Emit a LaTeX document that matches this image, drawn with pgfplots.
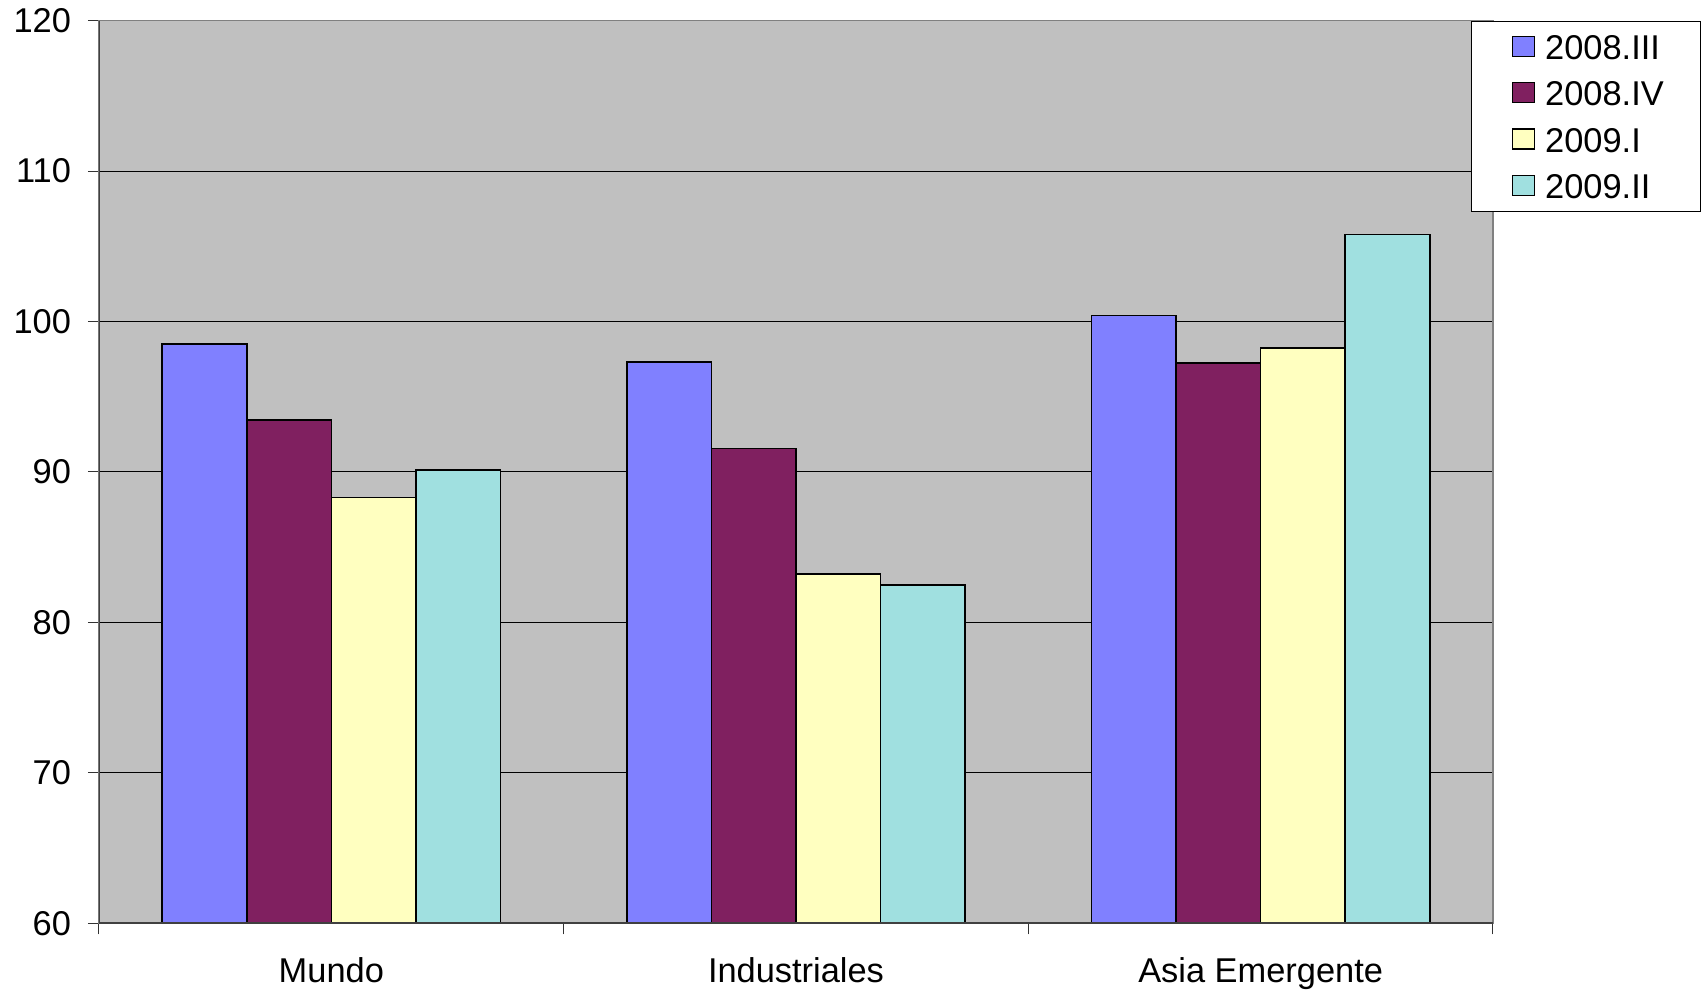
\documentclass[border=0pt]{standalone}
\usepackage{fontspec}
\setmainfont{Liberation Sans}
\usepackage{pgfplots}
\pgfplotsset{compat=1.18}
\definecolor{cA}{HTML}{8080FF}
\definecolor{cB}{HTML}{802060}
\definecolor{cC}{HTML}{FFFFC0}
\definecolor{cD}{HTML}{A0E0E0}
\definecolor{bg}{HTML}{C0C0C0}
\newcommand{\chartfont}{\fontsize{17.2}{20}\selectfont}
\begin{document}
\begin{tikzpicture}
\begin{axis}[
  at={(0,0)}, anchor=south west,
  scale only axis, width=697pt, height=451.3pt,
  xmin=-0.5, xmax=2.5, ymin=60, ymax=120,
  ytick={60,70,80,90,100,110,120},
  xtick={0,1,2}, xticklabels={Mundo,Industriales,Asia Emergente},
  minor xtick={-0.5,0.5,1.5,2.5},
  major x tick style={draw=none},
  tick pos=left,
  tick align=outside, major tick length=5.5pt, minor tick length=5.5pt,
  tick style={black!80, line width=0.5pt},
  ymajorgrids, major grid style={black, line width=0.5pt},
  axis background/.style={fill=bg},
  axis line style={draw=gray, line width=0.8pt},
  /pgf/number format/assume math mode=true,
  ticklabel style={font=\chartfont},
  yticklabel style={xshift=-5pt},
  xticklabel style={yshift=-8pt},
  ybar=0pt, bar width=0.182,
  legend style={at={(0.984,1)}, anchor=north west, draw=black, line width=0.5pt, fill=white,
    font=\chartfont, inner xsep=16.5pt, inner ysep=1.4pt,
    nodes={inner ysep=3.55pt, text height=14.3pt, text depth=1.7pt},
    cells={anchor=west}},
  legend image code/.code={\path[draw=none,fill=none] (-4pt,0) -- (14.5pt,0);\draw[#1,draw=black,line width=0.6pt] (0pt,-4.8pt) rectangle (11pt,5.2pt);},
]
\addplot[fill=cA, draw=black, line width=0.8pt, bar shift=-0.273] coordinates {(0,98.5) (1,97.3) (2,100.4)};
\addplot[fill=cB, draw=black, line width=0.8pt, bar shift=-0.091] coordinates {(0,93.45) (1,91.55) (2,97.25)};
\addplot[fill=cC, draw=black, line width=0.8pt, bar shift=0.091] coordinates {(0,88.3) (1,83.2) (2,98.25)};
\addplot[fill=cD, draw=black, line width=0.8pt, bar shift=0.273] coordinates {(0,90.15) (1,82.5) (2,105.8)};
\legend{2008.III,2008.IV,2009.I,2009.II}
\draw[black!75, line width=1pt] (rel axis cs:0,1) -- (rel axis cs:0,0) -- (rel axis cs:1,0);
\end{axis}
\pgfresetboundingbox
\path[use as bounding box] (-49.5pt,-34.35pt) rectangle (803pt,461.65pt);
\end{tikzpicture}
\end{document}
